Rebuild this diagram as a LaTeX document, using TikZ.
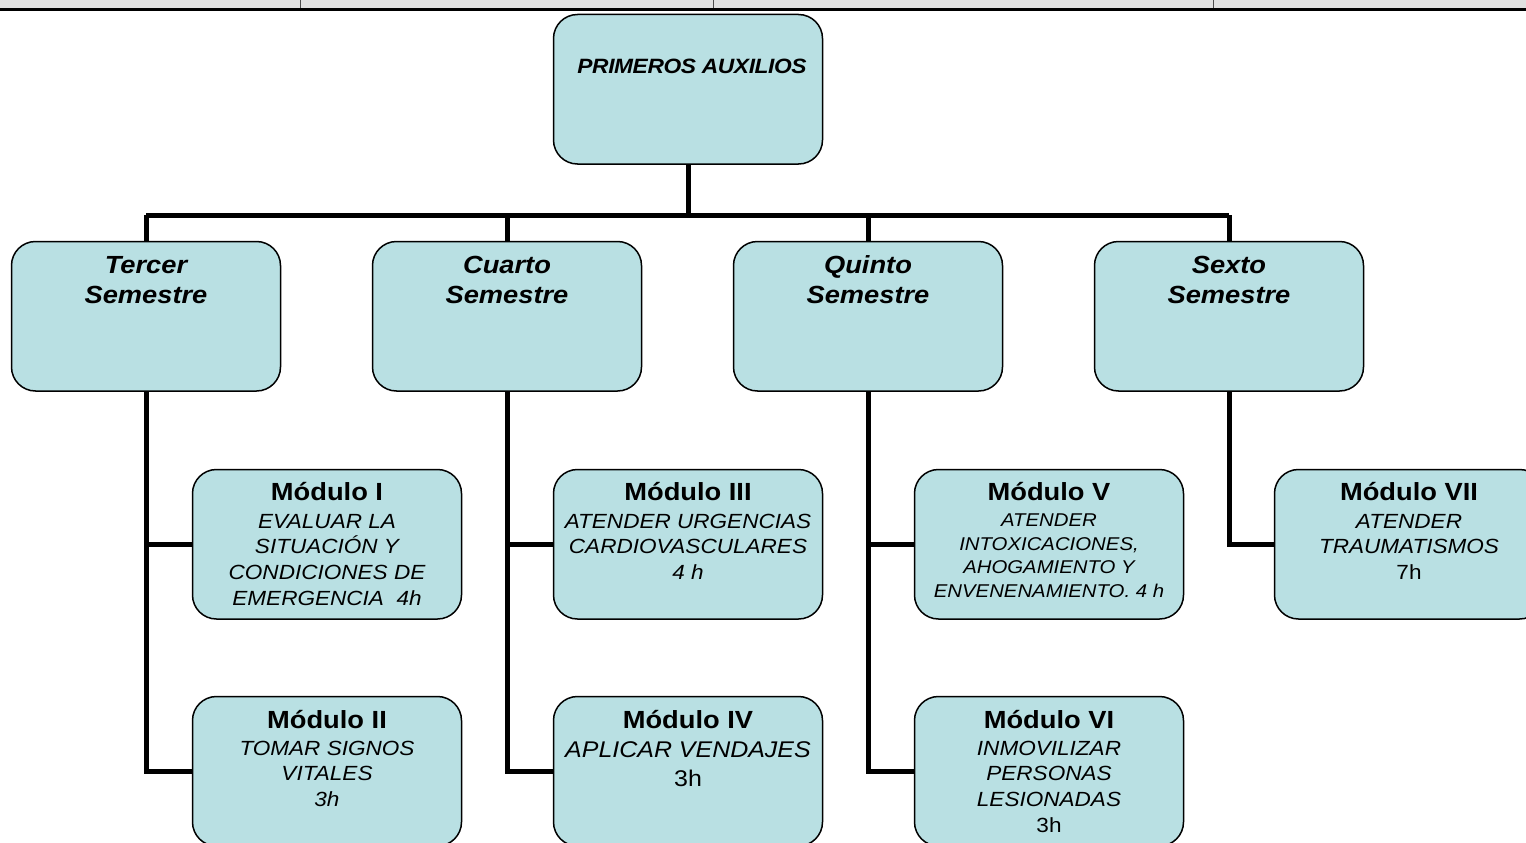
\documentclass[tikz,border=0pt]{standalone}
\usepackage{fontspec}
\setmainfont{Liberation Sans}[FakeStretch=1.1]
\newfontfamily\topfont{Liberation Sans}[FakeStretch=1.1, LetterSpace=-2]
\definecolor{boxfill}{HTML}{B9E0E3}
\definecolor{stripgrey}{HTML}{E0E0E0}
\pgfdeclarelayer{bg}
\pgfsetlayers{bg,main}
\newcommand{\modtitle}[1]{{\fontsize{24.8}{29}\selectfont\bfseries #1}}
\begin{document}
\begin{tikzpicture}[x=1pt,y=-1pt,
  box/.style={draw=black, line width=1.5pt, fill=boxfill, rounded corners=24pt,
    minimum width=269pt, minimum height=149.5pt, inner sep=0pt, anchor=north west,
    xshift=0.75pt, yshift=-0.75pt},
  conn/.style={line width=5pt, draw=black},
  txt/.style={anchor=base, inner sep=0pt},
  semtxt/.style={txt, font=\fontsize{24.8}{30}\selectfont\bfseries\itshape},
]
\useasboundingbox (0,0) rectangle (1526,843);
\clip (0,0) rectangle (1526,843);

% top strip
\fill[stripgrey] (0,0) rectangle (1526,9);
\draw[black!70, line width=0.8pt] (300,0) -- (300,9) (713,0) -- (713,9) (1213,0) -- (1213,9);
\fill[black] (0,8.5) rectangle (1526,11.5);

% boxes
\node[box] (top) at (552,13) {};
\node[box] (sem1) at (10,240) {};
\node[box] (sem2) at (371,240) {};
\node[box] (sem3) at (732,240) {};
\node[box] (sem4) at (1093,240) {};
\node[box] (m1) at (191,468) {};
\node[box] (m2) at (191,695) {};
\node[box] (m3) at (552,468) {};
\node[box] (m4) at (552,695) {};
\node[box] (m5) at (913,468) {};
\node[box] (m6) at (913,695) {};
\node[box] (m7) at (1273,468) {};

% connectors
\coordinate (bus) at (0,215);
\begin{pgfonlayer}{bg}
\draw[conn] (top.south) -- (top.south |- bus);
\draw[conn] (sem1.north |- bus) -- (sem4.north |- bus);
\draw[conn] (sem1.north) -- (sem1.north |- bus);
\draw[conn] (sem2.north) -- (sem2.north |- bus);
\draw[conn] (sem3.north) -- (sem3.north |- bus);
\draw[conn] (sem4.north) -- (sem4.north |- bus);
\draw[conn] (sem1.south) |- (m1.west);
\draw[conn] (sem1.south) |- (m2.west);
\draw[conn] (sem2.south) |- (m3.west);
\draw[conn] (sem2.south) |- (m4.west);
\draw[conn] (sem3.south) |- (m5.west);
\draw[conn] (sem3.south) |- (m6.west);
\draw[conn] (sem4.south) |- (m7.west);
\end{pgfonlayer}

% texts
\node[txt, font=\topfont\fontsize{20.7}{24}\selectfont\bfseries\itshape] (ttop) at (692,73.4) {PRIMEROS AUXILIOS};

\node[semtxt] (tsem1) at (sem1.north |- 0,273.3) {\begin{tabular}[t]{@{}c@{}}Tercer\\Semestre\end{tabular}};
\node[semtxt] (tsem2) at (sem2.north |- 0,273.3) {\begin{tabular}[t]{@{}c@{}}Cuarto\\Semestre\end{tabular}};
\node[semtxt] (tsem3) at (sem3.north |- 0,273.3) {\begin{tabular}[t]{@{}c@{}}Quinto\\Semestre\end{tabular}};
\node[semtxt] (tsem4) at (sem4.north |- 0,273.3) {\begin{tabular}[t]{@{}c@{}}Sexto\\Semestre\end{tabular}};

\node[txt, font=\fontsize{20.5}{25.6}\selectfont] (tm1) at (m1.north |- 0,500.8)
  {\begin{tabular}[t]{@{}c@{}}\modtitle{Módulo I}\\[1.9pt]\itshape EVALUAR LA\\\itshape SITUACIÓN Y\\\itshape CONDICIONES DE\\\itshape EMERGENCIA\ \ 4h\end{tabular}};
\node[txt, font=\fontsize{20.5}{25.6}\selectfont] (tm2) at (m2.north |- 0,728.8)
  {\begin{tabular}[t]{@{}c@{}}\modtitle{Módulo II}\\[0.9pt]\itshape TOMAR SIGNOS\\\itshape VITALES\\\itshape 3h\end{tabular}};
\node[txt, font=\fontsize{20.5}{25.6}\selectfont] (tm3) at (m3.north |- 0,500.8)
  {\begin{tabular}[t]{@{}c@{}}\modtitle{Módulo III}\\[1.9pt]\itshape ATENDER URGENCIAS\\\itshape CARDIOVASCULARES\\\itshape 4 h\end{tabular}};
\node[txt, font=\fontsize{22.7}{29}\selectfont] (tm4) at (m4.north |- 0,728.8)
  {\begin{tabular}[t]{@{}c@{}}\modtitle{Módulo IV}\\[-0.7pt]\itshape APLICAR VENDAJES\\3h\end{tabular}};
\node[txt, font=\fontsize{18.5}{23.5}\selectfont] (tm5) at (m5.north |- 0,500.8)
  {\begin{tabular}[t]{@{}c@{}}\modtitle{Módulo V}\\[2.3pt]\itshape ATENDER\\\itshape INTOXICACIONES,\\\itshape AHOGAMIENTO Y\\\itshape ENVENENAMIENTO. 4 h\end{tabular}};
\node[txt, font=\fontsize{20.5}{25.6}\selectfont] (tm6) at (m6.north |- 0,728.8)
  {\begin{tabular}[t]{@{}c@{}}\modtitle{Módulo VI}\\[0.9pt]\itshape INMOVILIZAR\\\itshape PERSONAS\\\itshape LESIONADAS\\3h\end{tabular}};
\node[txt, font=\fontsize{20.5}{25.6}\selectfont] (tm7) at (m7.north |- 0,500.8)
  {\begin{tabular}[t]{@{}c@{}}\modtitle{Módulo VII}\\[1.9pt]\itshape ATENDER\\\itshape TRAUMATISMOS\\7h\end{tabular}};
\end{tikzpicture}
\end{document}
